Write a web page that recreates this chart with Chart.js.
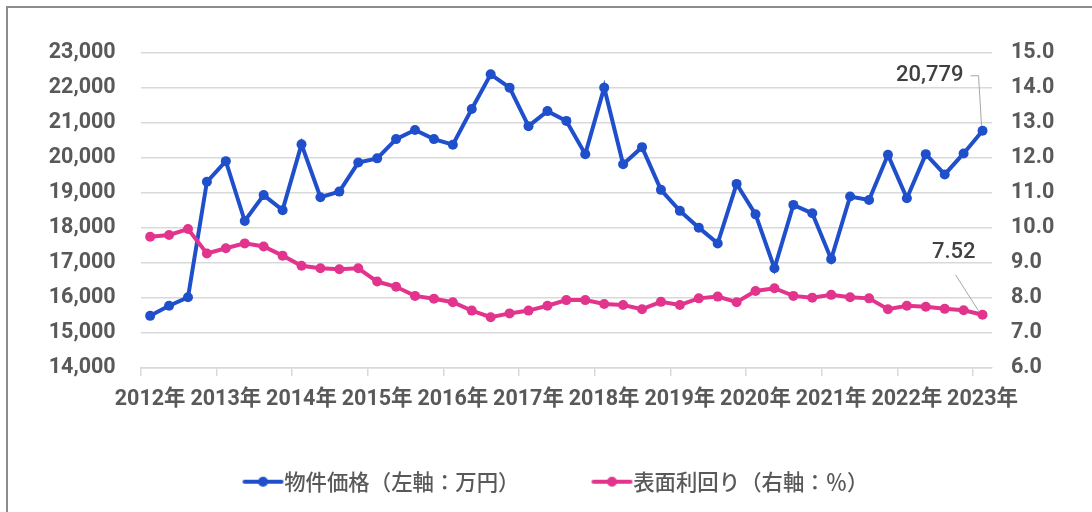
<!DOCTYPE html>
<html><head><meta charset="utf-8">
<script src="https://cdn.jsdelivr.net/npm/chart.js@4.4.0/dist/chart.umd.min.js"></script>
<style>html,body{margin:0;padding:0;background:#fff;overflow:hidden}#wrap{position:relative;width:1092px;height:512px}</style>
</head><body><div id="wrap"><canvas id="c" width="1092" height="512"></canvas></div>
<script>
// ---- data ----
const categories = [
  '2012年','2012/2Q','2012/3Q','2012/4Q',
  '2013年','2013/2Q','2013/3Q','2013/4Q',
  '2014年','2014/2Q','2014/3Q','2014/4Q',
  '2015年','2015/2Q','2015/3Q','2015/4Q',
  '2016年','2016/2Q','2016/3Q','2016/4Q',
  '2017年','2017/2Q','2017/3Q','2017/4Q',
  '2018年','2018/2Q','2018/3Q','2018/4Q',
  '2019年','2019/2Q','2019/3Q','2019/4Q',
  '2020年','2020/2Q','2020/3Q','2020/4Q',
  '2021年','2021/2Q','2021/3Q','2021/4Q',
  '2022年','2022/2Q','2022/3Q','2022/4Q',
  '2023年'
];
const priceValues = [
  15490,15780,16020,19320,
  19910,18200,18940,18510,
  20390,18880,19040,19870,
  19990,20540,20800,20540,
  20380,21400,22390,22010,
  20910,21340,21060,20110,
  22010,19820,20310,19090,
  18490,18010,17560,19260,
  18390,16850,18660,18420,
  17110,18900,18800,20090,
  18850,20110,19530,20130,
  20779
];
const yieldValues = [
  9.75,9.80,9.97,9.27,
  9.42,9.56,9.47,9.21,
  8.92,8.85,8.82,8.85,
  8.47,8.32,8.06,7.98,
  7.88,7.64,7.45,7.56,
  7.64,7.78,7.94,7.94,
  7.83,7.80,7.68,7.89,
  7.80,7.99,8.04,7.88,
  8.20,8.28,8.06,8.01,
  8.09,8.02,7.99,7.68,
  7.78,7.75,7.69,7.65,
  7.52
];
const seriesNames = ['物件価格（左軸：万円）','表面利回り（右軸：％）'];
const leftTickRange = [14000, 23000, 1000];
const rightTickRange = [6, 15, 1];
const lastLabels = ['20,779', '7.52'];

// ---- styles ----
const BLUE = '#1F4FCB';
const PINK = '#E2348D';
const AXIS_TXT = '#595959';
const GRID = '#D9D9D9';
const NUM_FONT = {family: 'Roboto, "Noto Sans CJK JP", sans-serif', size: 21.5, weight: 'bold'};

function legendIcon(color) {
  // wide transparent canvas so that the visible icon sits just left of the text
  const c = document.createElement('canvas');
  c.width = 120; c.height = 12;
  const g = c.getContext('2d');
  g.strokeStyle = color; g.lineWidth = 4; g.lineCap = 'round';
  g.beginPath(); g.moveTo(56, 6); g.lineTo(93, 6); g.stroke();
  g.fillStyle = color; g.beginPath(); g.arc(74.5, 6, 5, 0, Math.PI * 2); g.fill();
  return c;
}
const icons = [legendIcon(BLUE), legendIcon(PINK)];

const framePlugin = {
  id: 'frame',
  beforeDraw(chart) {
    const ctx = chart.ctx;
    ctx.save();
    ctx.strokeStyle = '#8C8C8C';
    ctx.lineWidth = 2;
    ctx.beginPath();
    ctx.moveTo(7, 512); ctx.lineTo(7, 7); ctx.lineTo(1092, 7);
    ctx.stroke();
    ctx.restore();
  }
};

const lastLabelPlugin = {
  id: 'lastLabel',
  afterDatasetsDraw(chart) {
    const ctx = chart.ctx;
    ctx.save();
    ctx.font = '500 22px Roboto, sans-serif';
    ctx.fillStyle = '#404040';
    ctx.textAlign = 'right';
    ctx.textBaseline = 'middle';
    ctx.strokeStyle = '#A6A6A6';
    ctx.lineWidth = 1;
    const m0 = chart.getDatasetMeta(0).data;
    const p0 = m0[m0.length - 1];
    ctx.fillText(lastLabels[0], p0.x - 19, p0.y - 55);
    ctx.beginPath();
    ctx.moveTo(p0.x - 12, p0.y - 55);
    ctx.lineTo(p0.x - 4, p0.y - 55);
    ctx.lineTo(p0.x - 1, p0.y - 5);
    ctx.stroke();
    const m1 = chart.getDatasetMeta(1).data;
    const p1 = m1[m1.length - 1];
    ctx.fillText(lastLabels[1], p1.x - 7, p1.y - 62);
    ctx.beginPath();
    ctx.moveTo(p1.x - 27, p1.y - 40);
    ctx.lineTo(p1.x - 4, p1.y - 4);
    ctx.stroke();
    ctx.restore();
  }
};

new Chart(document.getElementById('c'), {
  type: 'line',
  data: {
    labels: categories,
    datasets: [
      {
        label: seriesNames[0], data: priceValues, yAxisID: 'y', order: 1,
        borderColor: BLUE, backgroundColor: BLUE, borderWidth: 4,
        pointRadius: 5, pointHoverRadius: 5, pointBackgroundColor: BLUE, pointBorderWidth: 0,
        tension: 0
      },
      {
        label: seriesNames[1], data: yieldValues, yAxisID: 'y1', order: 0,
        borderColor: PINK, backgroundColor: PINK, borderWidth: 4,
        pointRadius: 5, pointHoverRadius: 5, pointBackgroundColor: PINK, pointBorderWidth: 0,
        tension: 0
      }
    ]
  },
  options: {
    responsive: false,
    animation: false,
    devicePixelRatio: 1,
    layout: {padding: {left: 0, right: 0, top: 53, bottom: 9.6}},
    plugins: {
      tooltip: {enabled: false},
      legend: {
        position: 'bottom',
        labels: {
          usePointStyle: true,
          pointStyleWidth: 50,
          padding: 53,
          color: AXIS_TXT,
          font: {family: '"Noto Sans CJK JP", sans-serif', size: 21.4, weight: '500'},
          sort: (a, b) => a.datasetIndex - b.datasetIndex,
          generateLabels(chart) {
            const items = Chart.defaults.plugins.legend.labels.generateLabels(chart);
            items.forEach(it => { it.pointStyle = icons[it.datasetIndex]; });
            return items;
          }
        }
      }
    },
    scales: {
      x: {
        type: 'category',
        offset: true,
        afterFit(s) { s.height = 50; },
        grid: {
          offset: true,
          drawOnChartArea: false,
          drawTicks: true,
          tickLength: 8,
          color: c => (c.index % 4 === 0 ? GRID : 'rgba(0,0,0,0)'),
          lineWidth: 1.5
        },
        border: {display: true, color: GRID, width: 1.5},
        ticks: {
          autoSkip: false, maxRotation: 0, minRotation: 0, padding: 11,
          color: AXIS_TXT, font: NUM_FONT,
          callback(v, i) { return i % 4 === 0 ? categories[i] : ''; }
        }
      },
      y: {
        position: 'left',
        min: leftTickRange[0], max: leftTickRange[1],
        afterFit(s) { s.width = 140.7; },
        grid: {color: GRID, lineWidth: 1.5, drawTicks: false},
        border: {display: false},
        ticks: {
          stepSize: leftTickRange[2], padding: 25, color: AXIS_TXT, font: NUM_FONT,
          callback(v) { return v.toLocaleString('en-US'); }
        }
      },
      y1: {
        position: 'right',
        min: rightTickRange[0], max: rightTickRange[1],
        afterFit(s) { s.width = 100; },
        grid: {drawOnChartArea: false, drawTicks: false},
        border: {display: false},
        ticks: {
          stepSize: rightTickRange[2], padding: 19, color: AXIS_TXT, font: NUM_FONT,
          callback(v) { return Number(v).toFixed(1); }
        }
      }
    }
  },
  plugins: [framePlugin, lastLabelPlugin]
});
</script>
</body></html>
